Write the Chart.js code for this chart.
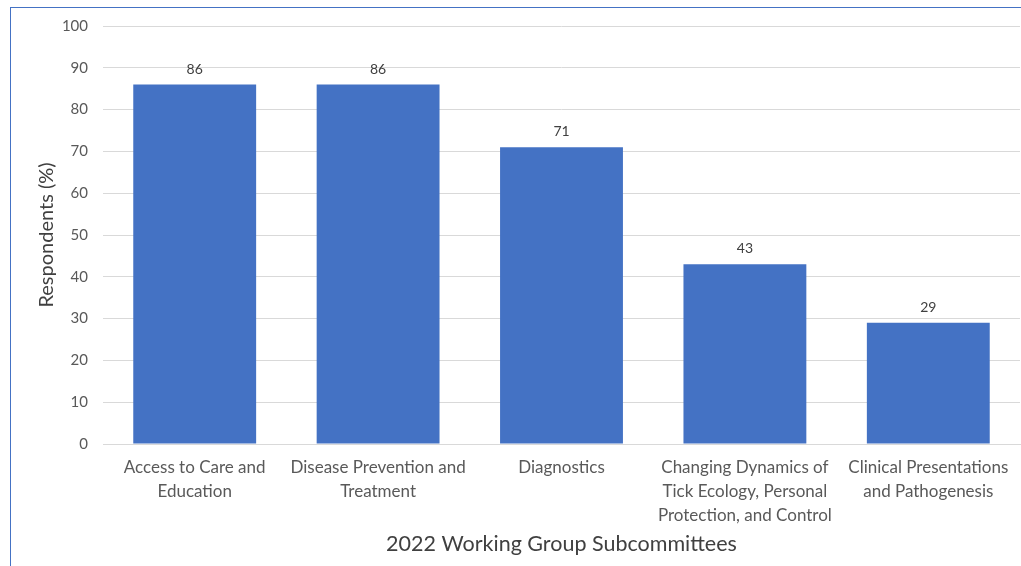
<!DOCTYPE html>
<html>
<head>
<meta charset="utf-8">
<script src="https://cdn.jsdelivr.net/npm/chart.js@4"></script>
<style>
  html, body { margin: 0; padding: 0; background: #fff; }
  #wrap { position: relative; width: 1021px; height: 566px; overflow: hidden; }
  #frame { position: absolute; left: 10px; top: 7px; right: -2px; bottom: -2px;
           border-left: 1px solid #4472c4; border-top: 1px solid #4472c4; pointer-events: none; }
  canvas { position: absolute; left: 0; top: 0; }
</style>
</head>
<body>
<div id="wrap">
  <canvas id="chart" width="1021" height="566"></canvas>
  <div id="frame"></div>
</div>
<script>
// ---- data ----
const categories = [
    ["Access to Care and", "Education"],
    ["Disease Prevention and", "Treatment"],
    ["Diagnostics"],
    ["Changing Dynamics of", "Tick Ecology, Personal", "Protection, and Control"],
    ["Clinical Presentations", "and Pathogenesis"]
];
const respondents = [86, 86, 71, 43, 29];
const yTicks = [0, 10, 20, 30, 40, 50, 60, 70, 80, 90, 100];

const FONT = "Lato, 'Open Sans', sans-serif";

/* value labels above each bar */
const barLabels = {
    id: "barLabels",
    afterDatasetsDraw(chart) {
        const ctx = chart.ctx;
        const meta = chart.getDatasetMeta(0);
        ctx.save();
        ctx.font = "14px " + FONT;
        ctx.fillStyle = "#404040";
        ctx.textAlign = "center";
        ctx.textBaseline = "alphabetic";
        meta.data.forEach((bar, i) => {
            ctx.fillText(String(respondents[i]), bar.x, bar.y - 11);
        });
        ctx.restore();
    }
};

new Chart(document.getElementById("chart"), {
    type: "bar",
    data: {
        labels: categories,
        datasets: [{
            data: respondents,
            backgroundColor: "#4472c4",
            borderWidth: 0,
            categoryPercentage: 0.67,
            barPercentage: 1
        }]
    },
    options: {
        responsive: false,
        animation: false,
        layout: { padding: { left: 10, top: 26, right: 1, bottom: 5 } },
        plugins: {
            legend: { display: false },
            tooltip: { enabled: false }
        },
        scales: {
            x: {
                grid: { display: false, drawTicks: false },
                border: { display: true, color: "#d9d9d9", width: 1 },
                ticks: {
                    color: "#595959",
                    font: { family: FONT, size: 17, lineHeight: 1.42 },
                    padding: 11,
                    maxRotation: 0,
                    autoSkip: false
                },
                title: {
                    display: true,
                    text: "2022 Working Group Subcommittees",
                    color: "#404040",
                    font: { family: FONT, size: 21.5 },
                    padding: { top: 4, bottom: 4 }
                },
                afterFit(scale) { scale.height = 117; }
            },
            y: {
                min: 0,
                max: 100,
                afterBuildTicks(scale) { scale.ticks = yTicks.map(v => ({ value: v })); },
                grid: { color: "#d9d9d9", drawTicks: false },
                border: { display: false },
                ticks: {
                    color: "#595959",
                    font: { family: FONT, size: 15 },
                    padding: 15
                },
                title: {
                    display: true,
                    text: "Respondents (%)",
                    color: "#404040",
                    font: { family: FONT, size: 20 },
                    padding: { top: 25, bottom: 0 }
                },
                afterFit(scale) { scale.width = 93; }
            }
        }
    },
    plugins: [barLabels]
});
</script>
</body>
</html>
